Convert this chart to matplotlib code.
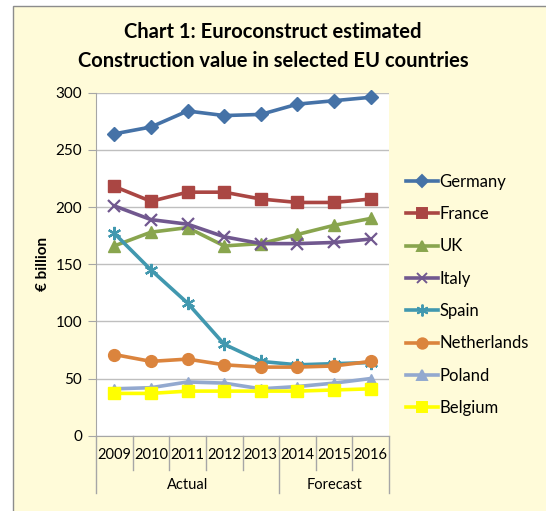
import matplotlib
matplotlib.use("Agg")
import matplotlib.pyplot as plt
from matplotlib.patches import Rectangle
from matplotlib.lines import Line2D
import matplotlib.transforms as mtransforms

plt.rcParams['font.family'] = ['Lato', 'DejaVu Sans']

# data (EUR billion)
years = ['2009', '2010', '2011', '2012', '2013', '2014', '2015', '2016']
groups = ['Actual', 'Forecast']
countries = ['Germany', 'France', 'UK', 'Italy', 'Spain', 'Netherlands', 'Poland', 'Belgium']
germany = [264, 270, 284, 280, 281, 290, 293, 296]
france = [218, 205, 213, 213, 207, 204, 204, 207]
uk = [166, 178, 182, 166, 168, 176, 184, 190]
italy = [201, 189, 185, 174, 168, 168, 169, 172]
spain = [177, 145, 116, 80, 65, 62, 63, 64]
netherlands = [71, 65, 67, 62, 60, 60, 61, 65]
poland = [41, 42, 47, 46, 41, 43, 46, 50]
belgium = [37, 37, 39, 39, 39, 39, 40, 41]

series = [germany, france, uk, italy, spain, netherlands, poland, belgium]
colors = ['#4572A7', '#AA4643', '#89A54E', '#71588F', '#4198AF', '#DB843D', '#93A9CF', '#FFFF00']
markers = ['D', 's', '^', 'x', (6, 2, 0), 'o', '^', 's']
msizes = [7.5, 8.5, 8.5, 8.5, 9.5, 8.5, 7.5, 8.5]

bg = '#FFFBD9'
fig = plt.figure(figsize=(5.46, 5.11), dpi=100, facecolor='white')
frame = Rectangle((13 / 546, -0.01), 1.0, 1 - 6 / 511 + 0.01, transform=fig.transFigure,
                  facecolor=bg, edgecolor='#8C8C8C', linewidth=1.0, zorder=-10)
fig.patches.append(frame)

ax = fig.add_axes([96 / 546, 1 - 435.7 / 511, 293 / 546, 343 / 511])
ax.set_facecolor('white')

x = list(range(len(years)))
for vals, c, m, ms in zip(series, colors, markers, msizes):
    ax.plot(x, vals, color=c, marker=m, markersize=ms, linewidth=2.6,
            markeredgewidth=1.6 if m in ('x', (6, 2, 0)) else 1.0,
            markeredgecolor=c, clip_on=False)

ax.set_ylim(0, 300)
ax.set_xlim(-0.5, len(years) - 0.5)
ax.set_yticks(range(0, 301, 50))
ax.yaxis.grid(True, color='#BFBFBF', linewidth=1.0)
ax.set_axisbelow(True)
for s in ['top', 'right']:
    ax.spines[s].set_visible(False)
ax.spines['left'].set_color('#A6A6A6')
ax.spines['bottom'].set_color('#A6A6A6')
ax.tick_params(axis='y', length=6, color='#A6A6A6', labelsize=11, pad=4)
ax.set_xticks(x)
ax.set_xticklabels(years)
ax.tick_params(axis='x', length=0, labelsize=10.5, pad=9)
ax.set_ylabel('€ billion', fontsize=11, fontweight='bold', labelpad=4)

# multi-level category separators
trans = mtransforms.blended_transform_factory(ax.transData, ax.transAxes)
px = 1 / 343
for i in range(len(years) + 1):
    xpos = i - 0.5
    long_line = i in (0, 5, len(years))
    ylow = -57 * px if long_line else -34 * px
    ax.add_line(Line2D([xpos, xpos], [0, ylow], transform=trans, color='#A6A6A6',
                       linewidth=1.0, clip_on=False))
ax.text(2.0, -49 * px, groups[0], transform=trans, ha='center', va='center', fontsize=10.5)
ax.text(6.0, -49 * px, groups[1], transform=trans, ha='center', va='center', fontsize=10.5)

fig.text(273 / 546, 1 - 32 / 511, 'Chart 1: Euroconstruct estimated', ha='center', va='center',
         fontsize=14.5, fontweight='bold')
fig.text(273 / 546, 1 - 61 / 511, 'Construction value in selected EU countries', ha='center',
         va='center', fontsize=14.5, fontweight='bold')

handles = [Line2D([0], [0], color=c, marker=m, markersize=ms - 1, linewidth=2.6,
                  markeredgecolor=c, markeredgewidth=1.4)
           for c, m, ms in zip(colors, markers, msizes)]
fig.legend(handles, countries, loc='upper left', bbox_to_anchor=(398 / 546, 1 - 165.5 / 511),
           frameon=False, fontsize=12, handlelength=1.9, handletextpad=0.1,
           labelspacing=0.98, borderpad=0)

fig.savefig('out.png', dpi=100, facecolor=fig.get_facecolor())
